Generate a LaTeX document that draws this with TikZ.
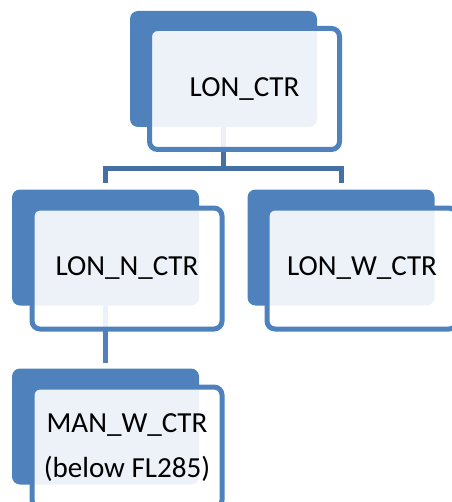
\documentclass[tikz,border=0pt]{standalone}
\usepackage{fontspec}
\setmainfont{Carlito}
\usepackage{tikz}
\usetikzlibrary{calc}
\definecolor{boxblue}{HTML}{4F81BD}
\definecolor{linkblue}{HTML}{4470A6}

\begin{document}
\begin{tikzpicture}[x=0.75pt, y=-0.75pt,
    back/.style={rectangle, fill=boxblue, rounded corners=6pt,
        minimum width=140.25pt, minimum height=87pt, inner sep=0pt},
    front/.style={rectangle, draw=boxblue, line width=3.75pt, fill=white,
        fill opacity=0.9, text opacity=1, rounded corners=6pt,
        minimum width=142.5pt, minimum height=90.75pt, inner sep=0pt,
        align=center, font=\fontsize{21.8}{34}\selectfont},
    link/.style={draw=linkblue, line width=3.75pt}]
                \useasboundingbox (0,0) rectangle (452,502);
                \clip (0,0) rectangle (452,502);
                % back panels
                \node[back] (topback) at (223.5,69) {};
                \node[back] (nback) at (105.5,247.5) {};
                \node[back] (wback) at (341,247.5) {};
                \node[back] (mback) at (105.5,426.5) {};
                % connectors
                \coordinate (j) at (223.5,169);
                \draw[link] (topback.south) -- (j);
                \draw[link] (j) -| ($(nback.north)+(0,-6)$);
                \draw[link] (j) -| ($(wback.north)+(0,-6)$);
                \draw[link, draw=boxblue] (nback.south) -- ($(mback.north)+(0,-5)$);
                % front boxes
                \node[front] (top) at (244.5,89) {LON\_CTR};
                \node[front] (n) at (127,268.5) {LON\_N\_CTR};
                \node[front] (w) at (362,268.5) {LON\_W\_CTR};
                \node[front] (m) at (127,447.5) {MAN\_W\_CTR\\(below FL285)};
            \end{tikzpicture}
\end{document}
